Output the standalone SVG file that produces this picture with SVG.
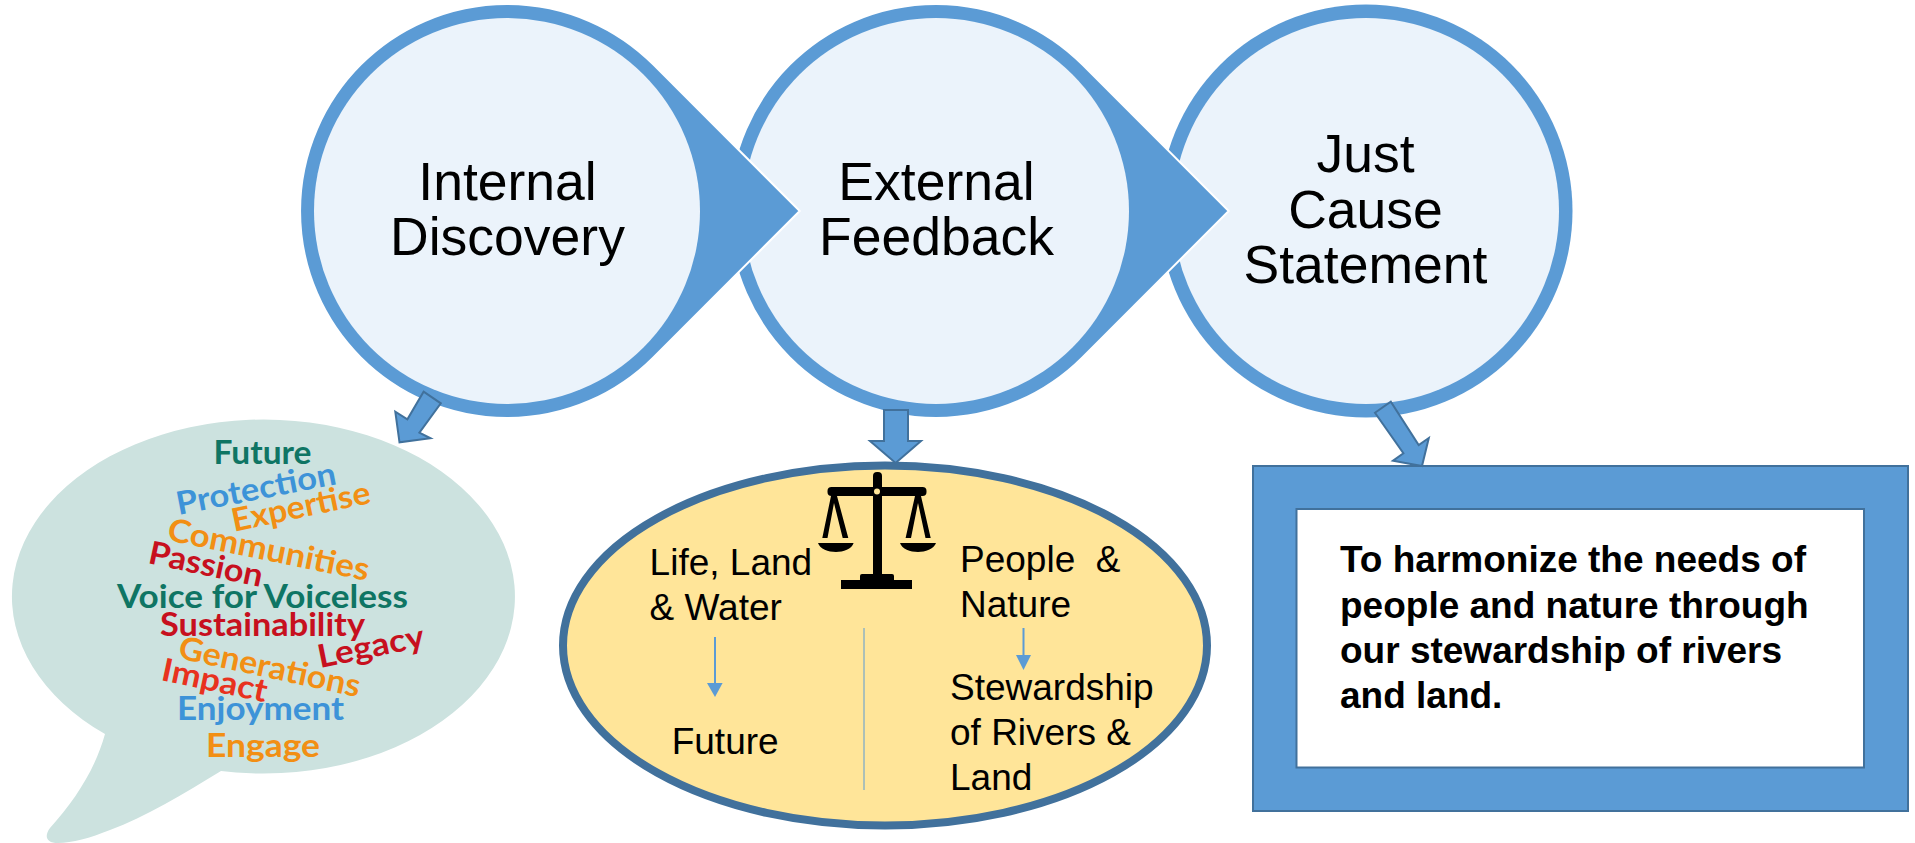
<svg xmlns="http://www.w3.org/2000/svg" width="1915" height="843" viewBox="0 0 1915 843">
<style>
text{font-family:"Liberation Sans",Arial,sans-serif;fill:#000}
.big{font-size:53.5px;text-anchor:middle}
.mid{font-size:37px}
.bold{font-size:37px;font-weight:bold}
.w{font-family:Lato,"Open Sans",sans-serif;font-weight:bold;font-size:32px}
.tear{fill:#5b9bd5;stroke:#fff;stroke-width:2}
.in{fill:#ebf3fb}
.block{fill:#5b9bd5;stroke:#41719c;stroke-width:2}
.thin{stroke:#5b9bd5;stroke-width:2;fill:none}
.head{fill:#5b9bd5}
.teal{fill:#0f7564}.blue{fill:#3d93d8}.or{fill:#f28f14}.red{fill:#c7101e}
</style>
<rect width="1915" height="843" fill="#fff"/>
<g id="node-just-cause">
<circle cx="1366" cy="211" r="206.5" fill="#5b9bd5"/>
<circle class="in" cx="1366" cy="211" r="193"/>
<text class="big" x="1365.5" y="172">Just</text>
<text class="big" x="1365.5" y="228">Cause</text>
<text class="big" x="1365.5" y="283">Statement</text>
</g>
<g id="node-external-feedback">
<path class="tear" d="M1082.4,64.6A207,207 0 1 0 1082.4,357.4L1228.7,211Z"/>
<circle class="in" cx="936" cy="211" r="193"/>
<text class="big" x="936.5" y="200">External</text>
<text class="big" x="936.5" y="255">Feedback</text>
</g>
<g id="node-internal-discovery">
<path class="tear" d="M653.4,64.6A207,207 0 1 0 653.4,357.4L799.7,211Z"/>
<circle class="in" cx="507" cy="211" r="193"/>
<text class="big" x="507.5" y="200">Internal</text>
<text class="big" x="507.5" y="255">Discovery</text>
</g>
<g id="node-word-cloud">
<path fill="#cce2df" d="M105,734A251.5,177 0 1 1 221,771C185,793 145,817 110,830C90,838 72,843 58,843C46,843 44,836 50,828C75,800 95,770 105,734Z"/>
<text class="w teal" x="213.5" y="464" textLength="98" lengthAdjust="spacingAndGlyphs">Future</text>
<text class="w blue" transform="translate(178.5,515) rotate(-11)" textLength="162" lengthAdjust="spacingAndGlyphs">Protection</text>
<text class="w or" transform="translate(234,531.7) rotate(-11.8)" textLength="141" lengthAdjust="spacingAndGlyphs">Expertise</text>
<text class="w or" transform="translate(166,540) rotate(11.5)" textLength="205" lengthAdjust="spacingAndGlyphs">Communities</text>
<text class="w red" transform="translate(147,563) rotate(12)" textLength="116" lengthAdjust="spacingAndGlyphs">Passion</text>
<text class="w teal" x="117" y="608" textLength="291" lengthAdjust="spacingAndGlyphs">Voice for Voiceless</text>
<text class="w red" x="160" y="636" textLength="205" lengthAdjust="spacingAndGlyphs">Sustainability</text>
<text class="w red" transform="translate(320,668) rotate(-11.5)" textLength="108" lengthAdjust="spacingAndGlyphs">Legacy</text>
<text class="w or" transform="translate(177,658) rotate(12.2)" textLength="185" lengthAdjust="spacingAndGlyphs">Generations</text>
<text class="w" style="fill:#e8321e" transform="translate(160,680) rotate(12)" textLength="107" lengthAdjust="spacingAndGlyphs">Impact</text>
<text class="w blue" x="177" y="720" textLength="167" lengthAdjust="spacingAndGlyphs">Enjoyment</text>
<text class="w or" x="206" y="757" textLength="114" lengthAdjust="spacingAndGlyphs">Engage</text>
</g>
<g id="node-ellipse">
<ellipse cx="885" cy="645.5" rx="322" ry="180" fill="#ffe599" stroke="#41719c" stroke-width="8"/>
<g id="scales" fill="#000">
<rect x="873" y="472" width="9" height="110" rx="4"/>
<rect x="827.5" y="487" width="99" height="9" rx="4"/>
<circle cx="877" cy="491.5" r="3" fill="#ffe599"/>
<rect x="860" y="574" width="34" height="8" rx="2"/>
<rect x="841" y="580" width="71" height="9"/>
<path d="M831,496H837L848.3,538H842.7L834,503L827.5,538H822.3Z"/>
<path d="M915,496H921L930.7,538H925.5L918,503L911,538H905.6Z"/>
<path d="M818,543H853.6C852,549 843,552 836,552C828,552 820,549 818,543Z"/>
<path d="M900,543H936C934,549 925,552 918,552C910,552 902,549 900,543Z"/>
</g>
<text class="mid" x="649.6" y="575">Life, Land</text>
<text class="mid" x="649.6" y="620">&amp; Water</text>
<text class="mid" x="671.7" y="754">Future</text>
<text class="mid" x="960" y="572" xml:space="preserve">People  &amp;</text>
<text class="mid" x="960" y="617">Nature</text>
<text class="mid" x="950" y="700">Stewardship</text>
<text class="mid" x="950" y="745">of Rivers &amp;</text>
<text class="mid" x="950" y="790">Land</text>
<line x1="864" y1="628" x2="864" y2="790" stroke="#5b9bd5" stroke-width="1"/>
<line class="thin" x1="715" y1="637" x2="715" y2="685"/>
<path class="head" d="M707,683H722.6L715,697Z"/>
<line class="thin" x1="1023.5" y1="628" x2="1023.5" y2="657"/>
<path class="head" d="M1016,655H1031L1023.5,670Z"/>
</g>
<g id="node-statement">
<rect class="block" x="1253" y="466" width="655" height="345"/>
<rect x="1296.5" y="509" width="567.5" height="258.5" fill="#fff" stroke="#41719c" stroke-width="2"/>
<text class="bold" x="1340" y="572">To harmonize the needs of</text>
<text class="bold" x="1340" y="617.7">people and nature through</text>
<text class="bold" x="1340" y="662.7">our stewardship of rivers</text>
<text class="bold" x="1340" y="707.7">and land.</text>
</g>
<g id="connectors">
<path class="block" d="M423.6,391.7L440.8,403.3L419.4,432.7L430.5,438.3L399.5,442.3L395.3,411.7L407.4,419.3Z"/>
<path class="block" d="M884,410H908V441H921L895.6,463L870,441H884Z"/>
<path class="block" d="M1375,412.7L1390.8,401.7L1418.7,445L1428.8,438L1422,466L1393,460.7L1403.4,453.3Z"/>
</g>
</svg>
